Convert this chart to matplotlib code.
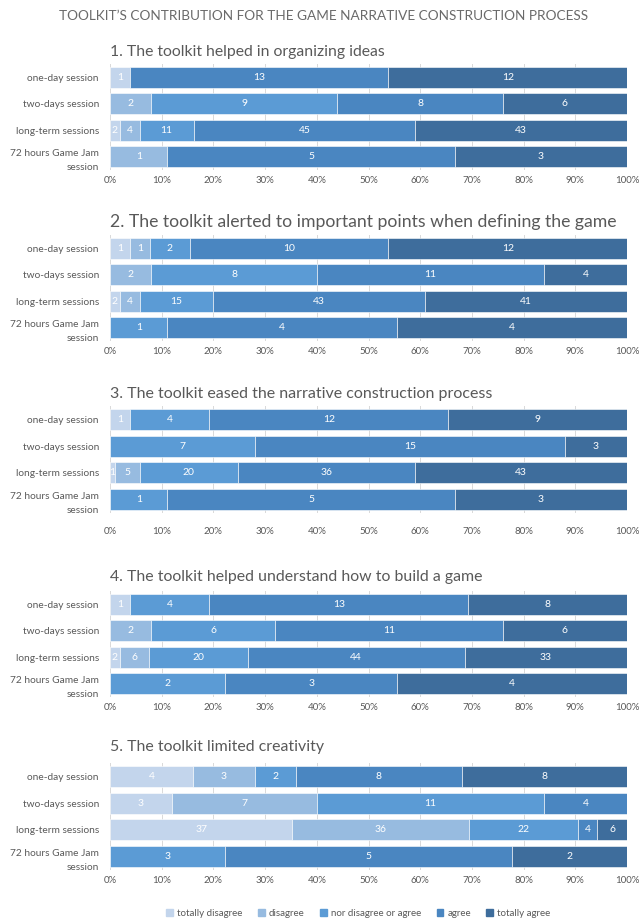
import matplotlib
matplotlib.use("Agg")
import matplotlib.pyplot as plt
import numpy as np

plt.rcParams['font.family'] = ['Lato', 'DejaVu Sans']

sessions = ["one-day session", "two-days session", "long-term sessions",
            "72 hours Game Jam\nsession"]
levels = ["totally disagree", "disagree", "nor disagree or agree", "agree",
          "totally agree"]
colors = ["#c3d5ec", "#97bbe0", "#5b9bd5", "#4a86c1", "#3e6d9c"]

titles = [
    "1. The toolkit helped in organizing ideas",
    "2. The toolkit alerted to important points when defining the game",
    "3. The toolkit eased the narrative construction process",
    "4. The toolkit helped understand how to build a game",
    "5. The toolkit limited creativity",
]
title_sizes = [11.3, 12.7, 11.5, 11.4, 11.4]

# counts per session: [totally disagree, disagree, neutral, agree, totally agree]
q1 = [[1, 0, 0, 13, 12], [0, 2, 9, 8, 6], [2, 4, 11, 45, 43], [0, 1, 0, 5, 3]]
q2 = [[1, 1, 2, 10, 12], [0, 2, 8, 11, 4], [2, 4, 15, 43, 41], [0, 0, 1, 4, 4]]
q3 = [[1, 0, 4, 12, 9], [0, 0, 7, 15, 3], [1, 5, 20, 36, 43], [0, 0, 1, 5, 3]]
q4 = [[1, 0, 4, 13, 8], [0, 2, 6, 11, 6], [2, 6, 20, 44, 33], [0, 0, 2, 3, 4]]
q5 = [[4, 3, 2, 8, 8], [3, 7, 11, 4, 0], [37, 36, 22, 4, 6], [0, 0, 2, 5, 2]]
questions = [q1, q2, q3, q4, q5]

# the source chart labels the 72h "neutral" bar of question 5 as 3
label_fix = {(4, 3, 2): "3"}

gray = "#595959"
W, H = 640, 924
fig = plt.figure(figsize=(W / 100, H / 100), dpi=100)
fig.text(0.505, 1 - 16 / H, "TOOLKIT\u2019S CONTRIBUTION FOR THE GAME NARRATIVE CONSTRUCTION PROCESS",
         ha="center", va="center", fontsize=9.8, color="#6a6a6a")

# (top, bottom) pixel of each plot area
boxes = [(64, 170), (235, 341), (406, 513), (591, 697), (763, 870)]
title_y = [52, 222, 394, 577, 747]
tick_pad = [4, 4, 10, 4, 4]
left, right = 110, 627

for qi, data in enumerate(questions):
    top, bot = boxes[qi]
    ax = fig.add_axes([left / W, 1 - bot / H, (right - left) / W, (bot - top) / H])
    arr = np.array(data, dtype=float)
    pct = arr / arr.sum(axis=1, keepdims=True) * 100
    y = np.arange(len(sessions))
    start = np.zeros(len(sessions))
    for li in range(len(levels)):
        ax.barh(y, pct[:, li], left=start, height=0.78, color=colors[li],
                edgecolor="white", linewidth=0.4, zorder=2)
        for si in range(len(sessions)):
            if arr[si, li] > 0:
                txt = label_fix.get((qi, si, li), str(int(arr[si, li])))
                ax.text(start[si] + pct[si, li] / 2, y[si], txt, ha="center",
                        va="center", color="white", fontsize=7.5, zorder=3)
        start += pct[:, li]
    ax.set_xlim(0, 100)
    ax.set_ylim(3.5, -0.5)
    ax.set_yticks(y)
    ax.set_yticklabels(sessions, fontsize=7.3, color=gray, linespacing=1.7)
    ax.set_xticks(np.arange(0, 101, 10))
    ax.set_xticklabels([f"{v}%" for v in range(0, 101, 10)], fontsize=7, color=gray)
    ax.tick_params(length=0)
    ax.tick_params(axis="x", pad=tick_pad[qi])
    ax.tick_params(axis="y", pad=8)
    ax.grid(axis="x", color="#d9d9d9", linewidth=0.7, zorder=0)
    for s in ax.spines.values():
        s.set_visible(False)
    fig.text(left / W, 1 - title_y[qi] / H, titles[qi], ha="left", va="center",
             fontsize=title_sizes[qi], color=gray)

handles = [plt.Rectangle((0, 0), 1, 1, color=c) for c in colors]
fig.legend(handles, levels, loc="center", bbox_to_anchor=(0.56, 1 - 913 / H),
           ncol=5, frameon=False, fontsize=7, handlelength=0.7, handleheight=0.7,
           columnspacing=1.6, handletextpad=0.4, labelcolor=gray)

fig.savefig("out.png", dpi=100)
